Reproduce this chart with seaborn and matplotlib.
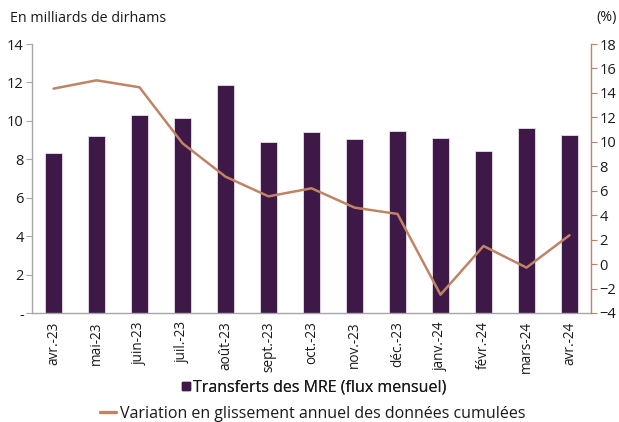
import matplotlib
matplotlib.use("Agg")
import matplotlib.pyplot as plt
from matplotlib.lines import Line2D
from matplotlib.ticker import FixedLocator
import seaborn as sns
import pandas as pd

months = ["avr.-23", "mai-23", "juin-23", "juil.-23", "août-23", "sept.-23", "oct.-23",
          "nov.-23", "déc.-23", "janv.-24", "févr.-24", "mars-24", "avr.-24"]
transferts = [8.33, 9.2, 10.28, 10.14, 11.86, 8.9, 9.41, 9.06, 9.48, 9.13, 8.42, 9.64, 9.27]
variation = [14.35, 15.03, 14.46, 9.88, 7.15, 5.54, 6.2, 4.62, 4.1, -2.5, 1.48, -0.29, 2.36]
left_ticks = [0, 2, 4, 6, 8, 10, 12, 14]
left_labels = ["-", "2", "4", "6", "8", "10", "12", "14"]
right_ticks = [-4, -2, 0, 2, 4, 6, 8, 10, 12, 14, 16, 18]

bar_color = "#3E1847"
line_color = "#BF8466"
axis_gray = "#A6A6A6"
text_color = "#1A1A1A"

sns.set_theme(style="white")
plt.rcParams["font.family"] = ["Open Sans", "DejaVu Sans"]

df = pd.DataFrame({"mois": months, "transferts": transferts, "variation": variation})

fig = plt.figure(figsize=(6.19, 4.22), dpi=100)
ax = fig.add_axes([32 / 619, 1 - 313 / 422, (591 - 32) / 619, (313 - 44) / 422])

sns.barplot(data=df, x="mois", y="transferts", color=bar_color, saturation=1,
            width=0.4, edgecolor="#E8E0EA", linewidth=0.6, ax=ax)
ax.set_xlim(-0.5, len(months) - 0.5)
ax.set_ylim(0, 14)
ax.set_yticks(left_ticks)
ax.set_yticklabels(left_labels)
ax.set_xlabel("")
ax.set_ylabel("")
ax.set_xticks(range(len(months)))
ax.set_xticklabels(months, rotation=90)
ax.xaxis.set_minor_locator(FixedLocator([i - 0.5 for i in range(len(months) + 1)]))
ax.tick_params(axis="x", which="major", length=0, pad=6, labelsize=9.8, colors=text_color)
ax.tick_params(axis="x", which="minor", length=4, width=0.8, color=axis_gray, direction="out")
ax.tick_params(axis="y", length=4, width=0.8, color=axis_gray, direction="out",
               labelsize=10.5, labelcolor=text_color, pad=2)
for side in ["top", "right"]:
    ax.spines[side].set_visible(False)
for side in ["left", "bottom"]:
    ax.spines[side].set_color(axis_gray)
    ax.spines[side].set_linewidth(1.0)
ax.grid(False)

ax2 = ax.twinx()
sns.lineplot(data=df, x="mois", y="variation", color=line_color, linewidth=1.8,
             sort=False, ax=ax2)
ax2.set_ylim(-4, 18)
ax2.set_yticks(right_ticks)
ax2.set_ylabel("")
ax2.set_xlim(-0.5, len(months) - 0.5)
ax2.tick_params(axis="y", length=4, width=0.8, color=line_color, direction="out",
                labelsize=10.5, labelcolor=text_color, pad=2)
for side in ["top", "left", "bottom"]:
    ax2.spines[side].set_visible(False)
ax2.spines["right"].set_color(line_color)
ax2.spines["right"].set_linewidth(1.0)
ax2.grid(False)

fig.text(10 / 619, 1 - 18 / 422, "En milliards de dirhams", fontsize=10.3,
         color=text_color, ha="left", va="center")
fig.text(607 / 619, 1 - 18 / 422, "(%)", fontsize=10.3, color=text_color,
         ha="center", va="center")

bar_handle = Line2D([], [], marker="s", linestyle="none", color=bar_color, markersize=5.5)
line_handle = Line2D([], [], color=line_color, linewidth=2.4)
leg1 = fig.legend([bar_handle], ["Transferts des MRE (flux mensuel)"],
                  loc="center", bbox_to_anchor=(314 / 619, 1 - 388 / 422),
                  frameon=False, fontsize=11.5, handlelength=0.45, handletextpad=0.2,
                  borderpad=0, labelcolor=text_color)
fig.add_artist(leg1)
fig.legend([line_handle], ["Variation en glissement annuel des données cumulées"],
           loc="center", bbox_to_anchor=(313 / 619, 1 - 414 / 422),
           frameon=False, fontsize=11.5, handlelength=1.0, handletextpad=0.25,
           borderpad=0, labelcolor=text_color)

fig.savefig("out.png", dpi=100)
